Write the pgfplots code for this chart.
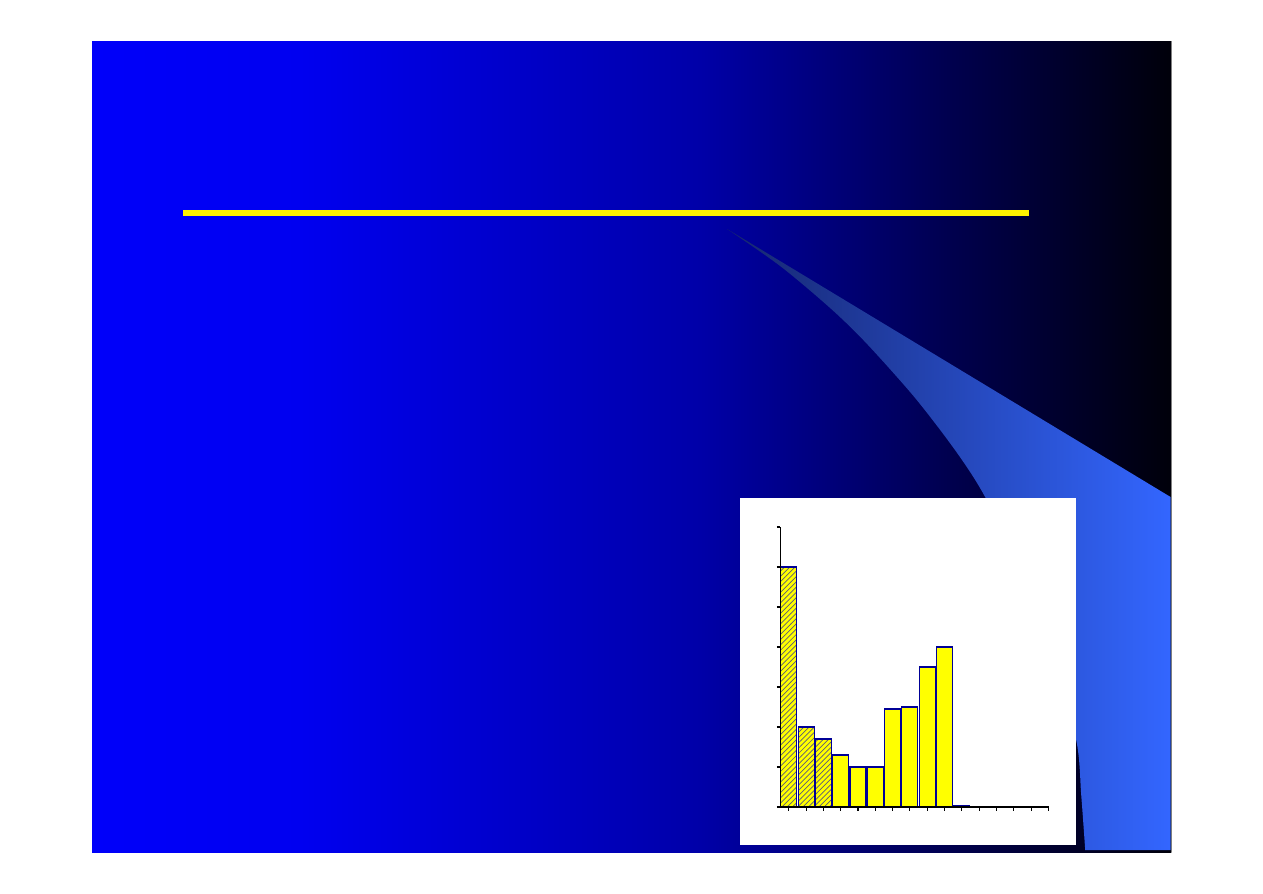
\documentclass[border=0pt]{standalone}
\usepackage{pgfplots}
\pgfplotsset{compat=1.18}
\usetikzlibrary{patterns}

\definecolor{bgA}{RGB}{0,0,250}
\definecolor{bgB}{RGB}{0,0,240}
\definecolor{bgC}{RGB}{0,0,168}
\definecolor{bgD}{RGB}{0,0,78}
\definecolor{bgE}{RGB}{0,0,10}
\definecolor{swooshL}{RGB}{22,38,110}
\definecolor{swooshR}{RGB}{51,102,255}
\definecolor{barline}{RGB}{0,0,150}
\definecolor{hatch}{RGB}{90,90,120}
\definecolor{baryellow}{RGB}{255,255,0}

\begin{document}
\begin{tikzpicture}
\path[use as bounding box] (0,0) rectangle (25.26cm,17.86cm);

% slide background, in reference pixels
\begin{scope}[x=0.02cm,y=-0.02cm,shift={(0,17.86cm)}]
  \fill[white] (0,0) rectangle (1263,893);
  \shade[left color=bgA,right color=bgB] (92,41) rectangle (300.5,852);
  \shade[left color=bgB,right color=bgC] (300,41) rectangle (700.5,852);
  \shade[left color=bgC,right color=bgD] (700,41) rectangle (950.5,852);
  \shade[left color=bgD,right color=bgE] (950,41) rectangle (1171,852);
  \draw[gray,line width=0.6pt] (1171,41) -- (1171,852);
  % swoosh
  \shade[left color=swooshL,right color=swooshR]
    (727,229) -- (1170.5,497) -- (1170.5,850) -- (1085,850)
    -- plot[smooth] coordinates {(1085,850) (1081,795) (1076,740) (1052,655)
       (1022,572) (985,497) (957,453) (915,398) (866,343) (830,308) (780,266) (727,229)}
    -- cycle;
  % yellow rule
  \fill[yellow] (183,209.5) rectangle (1029,215.5);
  % white chart box
  \fill[white] (740,497.5) rectangle (1076,845);
\end{scope}

\begin{axis}[
    at={(15.606cm,1.72cm)},
    anchor=south west,
    scale only axis,
    width=5.364cm,
    height=5.6cm,
    xmin=0.515, xmax=16,
    ymin=0, ymax=7,
    axis on top,
    axis x line*=bottom,
    axis y line*=left,
    axis line style={black,line width=0.6pt,-},
    xtick={1,...,16},
    ytick={0,...,7},
    xticklabels={},
    yticklabels={},
    tick align=outside,
    major tick length=0.07cm,
    tick style={black,line width=0.6pt},
    ybar,
    bar width=0.32cm,
    bar shift=0pt,
]
% hatched bars
\addplot[fill=baryellow,draw=barline,line width=0.6pt,
         postaction={pattern=north east lines,pattern color=hatch}]
  coordinates {(1,6.0) (2,2.0) (3,1.7)};
% plain bars
\addplot[fill=baryellow,draw=barline,line width=0.6pt]
  coordinates {(4,1.3) (5,1.0) (6,1.0) (7,2.45) (8,2.5) (9,3.5) (10,4.0)
               (11,0.04) (12,0) (13,0) (14,0) (15,0) (16,0)};
\end{axis}
\end{tikzpicture}
\end{document}
